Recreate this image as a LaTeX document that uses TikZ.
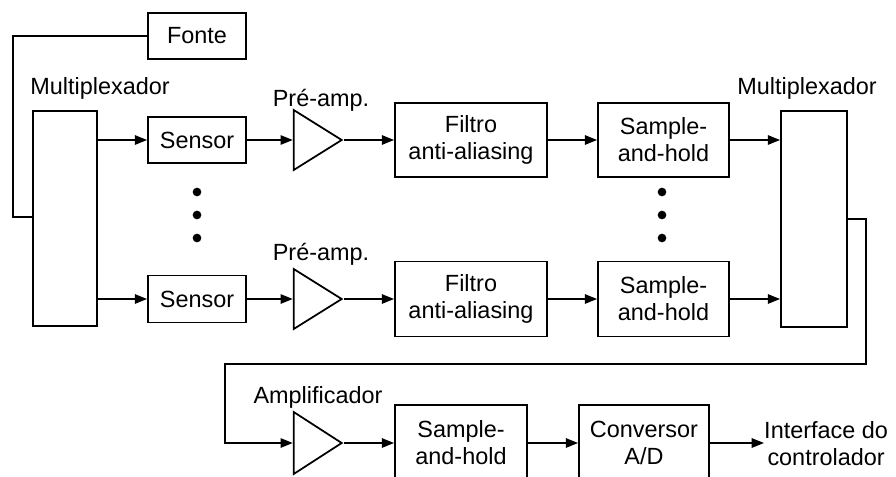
\documentclass[tikz,border=0pt]{standalone}
\usepackage{fontspec}
\setmainfont{Liberation Sans}
\usetikzlibrary{arrows.meta,shapes.geometric}

\tikzset{
  blk/.style={draw, line width=1.5pt, inner sep=0pt, align=center,
    font=\fontsize{20}{23}\selectfont},
  % for this shape the base length is set by minimum width,
  % the apex-to-base length by minimum height
  amp/.style={draw, line width=1.5pt, isosceles triangle,
    isosceles triangle stretches, shape border rotate=0, inner sep=0pt,
    minimum width=1.8cm, minimum height=1.44cm, anchor=apex},
  lbl/.style={inner sep=0pt, align=center, font=\fontsize{20}{23}\selectfont},
  wire/.style={line width=1.5pt},
  arr/.style={line width=1.5pt, -{Triangle[length=10.5pt,width=8pt]}},
  dot/.style={circle, fill=black, inner sep=0pt, minimum size=0.26cm},
}

\begin{document}
\begin{tikzpicture}[x=0.03cm, y=-0.03cm]
  \useasboundingbox (0,0) rectangle (896,476);
  \fill[white] (0,0) rectangle (896,476);
  \clip (0,0) rectangle (896,476);

  % power source and input multiplexer
  \node[blk, minimum width=2.94cm, minimum height=1.38cm] (fonte) at (197,36) {Fonte};
  \node[blk, minimum width=1.92cm, minimum height=6.45cm] (muxL) at (65,218.5) {};
  \node[lbl] (lmuxL) at (100,88) {Multiplexador};

  % first channel
  \node[blk, minimum width=2.94cm, minimum height=1.38cm] (s1) at (197,140) {Sensor};
  \node[amp] (t1) at (344,140) {};
  \node[lbl] (lt1) at (321,100) {Pré-amp.};
  \node[blk, minimum width=4.56cm, minimum height=2.22cm] (f1) at (471,140) {Filtro\\anti-aliasing};
  \node[blk, minimum width=3.93cm, minimum height=2.22cm] (h1) at (663.5,140) {Sample-\\and-hold};

  % last channel
  \node[blk, minimum width=2.94cm, minimum height=1.41cm] (s2) at (197,299) {Sensor};
  \node[amp] (t2) at (344,299) {};
  \node[lbl] (lt2) at (321,254) {Pré-amp.};
  \node[blk, minimum width=4.56cm, minimum height=2.25cm] (f2) at (471,299) {Filtro\\anti-aliasing};
  \node[blk, minimum width=3.93cm, minimum height=2.25cm] (h2) at (663.5,299) {Sample-\\and-hold};

  % channels omitted in between
  \foreach \yy [count=\i] in {192,215,238} {
    \node[dot] (da\i) at (197,\yy) {};
    \node[dot] (db\i) at (662,\yy) {};
  }

  % output multiplexer
  \node[blk, minimum width=1.98cm, minimum height=6.48cm] (muxR) at (814,219) {};
  \node[lbl] (lmuxR) at (807,88) {Multiplexador};

  % common output chain
  \node[amp, minimum width=1.86cm] (t3) at (344,443) {};
  \node[lbl] (lt3) at (318,397) {Amplificador};
  \node[blk, minimum width=3.96cm, minimum height=2.25cm] (h3) at (461,442.5) {Sample-\\and-hold};
  \node[blk, minimum width=3.9cm, minimum height=2.25cm] (adc) at (644,442.5) {Conversor\\A/D};
  \node[lbl, anchor=west] (iface) at (764,444) {Interface do\\controlador};

  % bends of the wires
  \coordinate (fb) at (13,217);
  \coordinate (cR) at (866,364);
  \coordinate (cL) at (225,364);

  % supply loop
  \draw[wire] (fonte.west) -| (fb) -- (fb -| muxL.west);

  % signal paths
  \draw[arr] (muxL.east |- s1.west) -- (s1.west);
  \draw[arr] (s1.east) -- (t1.west |- s1.east);
  \draw[arr] (t1.apex) -- (f1.west);
  \draw[arr] (f1.east) -- (h1.west);
  \draw[arr] (h1.east) -- (muxR.west |- h1.east);

  \draw[arr] (muxL.east |- s2.west) -- (s2.west);
  \draw[arr] (s2.east) -- (t2.west |- s2.east);
  \draw[arr] (t2.apex) -- (f2.west);
  \draw[arr] (f2.east) -- (h2.west);
  \draw[arr] (h2.east) -- (muxR.west |- h2.east);

  \draw[arr] (muxR.east) -| (cR) -- (cL) |- (t3.west);
  \draw[arr] (t3.apex) -- (h3.west |- t3.apex);
  \draw[arr] (h3.east |- t3.apex) -- (adc.west |- t3.apex);
  \draw[arr] (adc.east |- t3.apex) -- (iface.west |- t3.apex);
\end{tikzpicture}
\end{document}
